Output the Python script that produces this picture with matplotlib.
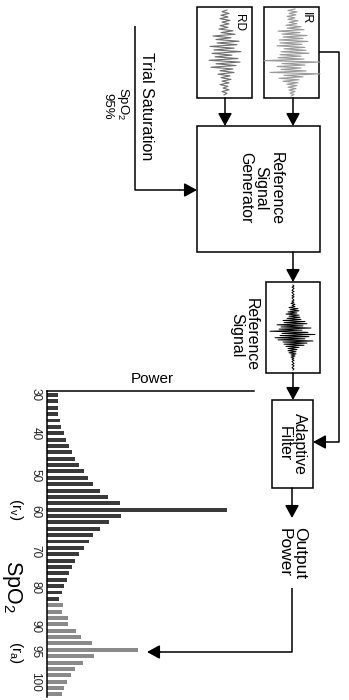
import numpy as np
import matplotlib.pyplot as plt
from matplotlib.patches import Rectangle

plt.rcParams['font.family'] = ['Liberation Sans', 'DejaVu Sans']
plt.rcParams['mathtext.fontset'] = 'custom'
plt.rcParams['mathtext.rm'] = 'Liberation Sans'
plt.rcParams['mathtext.it'] = 'Liberation Sans:italic'

# --- DATA ---
# output power of the adaptive filter per trial saturation bin (top -> bottom)
power_venous = [11, 11, 11, 11, 12.7, 14, 16.7, 19.3, 22, 24.7, 28.3, 32, 36.7,
                41, 46, 52.7, 61, 73.3, 180, 74, 62, 53, 46.3, 41.7, 36.7, 32,
                28.3, 25, 22.3, 20, 16.7, 14.7, 12.3]
power_arterial = [15.7, 15, 21, 21.3, 29.3, 34, 44.7, 91, 47, 36, 28.3, 23.7,
                  20.3, 17.3, 14.7]
spo2_labels = ['30', '40', '50', '60', '70', '80', '90', '95', '100']
spo2_bins = [0, 6, 12.6, 18.3, 24.6, 30.3, 36.4, 40.2, 45.1]

# sketched signal traces (offsets from the trace centre line)
rd_trace = [2, -3, 4, -4, 3, -5, 5, -3, 4, -5, 3, -6, 8, -4, 10, -12, 6, -9,
            14, -8, 12, -15, 9, -11, 16, -13, 7, -10, 13, -16, 15, -9, 11, -14,
            8, -5, 9, -7, 5, -4, 6, -3, 4, -5, 3, -2, 4, -3, 2, -1]
ir_trace = [3, -4, 5, -3, 4, -5, 3, -4, 6, -3,
            5, -6, 9, -5, 12, -14, 8, -10, 15, -9,
            11, -13, 16, -12, 10, -15, 13, -8, 14, -11,
            17, -12, 9, -14, 12, -28, 28, -10, 13, -15,
            9, -11, 14, -22, 28, -8, 11, -13, 7, -9,
            6, -5, 5, -4, 4, -3, 3, -2, 2, -1]
ref_trace = [0, 1, -1, 1, 0, -1, 1, -1, 0, 1,
             -1, 1, -1, 0, 1, -1, 1, -2, 2, -1,
             2, -4, 5, -3, 6, -5, 4, -7, 6, -4,
             7, -6, 8, -10, 12, -9, 14, -16, 10, -12,
             18, -14, 9, -23, 15, -11, 22, -13, 16, -18,
             12, -15, 20, -10, 14, -9, 11, -7, 6, -5,
             4, -5, 3, -4, 3, -2, 2, -2, 1, -1,
             1, -1, 0, 1, -1, 1, 0, -1, 1, 0]

# --- LAYOUT (pixel coordinates, y downwards) ---
boxes = {
    'rd': (197, 7, 252, 98),
    'ir': (264, 7, 319, 98),
    'gen': (197, 126, 320, 252),
    'ref': (266, 282, 320, 373),
    'filt': (272, 400, 313, 488),
}
W, H = 349, 700
fig = plt.figure(figsize=(W / 100, H / 100), dpi=100)

# --- BAR CHART (power vs SpO2) ---
power = power_venous + power_arterial
idx = np.arange(len(power))
colors = ['#3a3a3a'] * len(power_venous) + ['#8a8a8a'] * len(power_arterial)

ax = fig.add_axes([47 / W, 1 - 697 / H, 207 / W, (697 - 390.5) / H])
ax.barh(idx, power, height=0.62, color=colors, edgecolor='none')
ax.set_ylim(47.41, -0.71)
ax.set_xlim(0, 207)
ax.set_xticks([])
ax.set_yticks(spo2_bins)
ax.set_yticklabels(spo2_labels, rotation=-90, va='center', ha='right',
                   fontsize=8.5, color='#222222')
ax.tick_params(axis='y', length=0, pad=4)
for s in ['right', 'bottom']:
    ax.spines[s].set_visible(False)
for s in ['left', 'top']:
    ax.spines[s].set_linewidth(1.1)
ax.patch.set_visible(False)

# --- BLOCK DIAGRAM ---
d = fig.add_axes([0, 0, 1, 1])
d.set_xlim(0, W)
d.set_ylim(H, 0)
d.axis('off')

for x0, y0, x1, y1 in boxes.values():
    d.add_patch(Rectangle((x0, y0), x1 - x0, y1 - y0, fill=False,
                          edgecolor='black', lw=1.1))

def trace(vals, xc, y0, y1, color, lw):
    ys = np.linspace(y0, y1, len(vals))
    d.plot(xc + np.array(vals), ys, color=color, lw=lw)

trace(rd_trace, 225, 10, 95, '#6e6e6e', 0.8)
trace(ir_trace, 292, 9, 96, '#9a9a9a', 0.8)
trace(ref_trace, 293, 285, 370, 'black', 0.7)

arrow = dict(arrowstyle='-|>,head_length=0.55,head_width=0.3', color='black',
             lw=1.1, mutation_scale=14, shrinkA=0, shrinkB=0)

def line(xs, ys):
    d.plot(xs, ys, color='black', lw=1.1, solid_capstyle='butt')

def arr(p0, p1):
    d.annotate('', xy=p1, xytext=p0, arrowprops=arrow)

arr((225, 98), (225, 126))
arr((293, 98), (293, 126))
line([135, 135, 180], [26, 190, 190])
arr((180, 190), (197, 190))
line([319, 339, 339, 325], [52, 52, 442, 442])
arr((325, 442), (313, 442))
arr((293, 252), (293, 282))
arr((293, 373), (293, 400))
arr((292, 488), (292, 518))
line([292, 292, 160], [588, 652, 652])
arr((160, 652), (147, 652))

rot = dict(rotation=-90, ha='center', va='center', multialignment='center')
d.text(239, 22, 'RD', fontsize=8.5, **rot)
d.text(306, 18, 'IR', fontsize=9, **rot)
d.text(147, 106, 'Trial Saturation', fontsize=11.5, **rot)
d.text(123, 104, 'SpO$_2$', fontsize=9.5, **rot)
d.text(107, 106, '95%', fontsize=9.5, **rot)
d.text(261, 188, 'Reference\nSignal\nGenerator', fontsize=11.4,
       linespacing=1.0, **rot)
d.text(244, 335, 'Reference\nSignal', fontsize=11.4, linespacing=1.0, **rot)
d.text(292, 444, 'Adaptive\nFilter', fontsize=11.4, linespacing=1.0, **rot)
d.text(292, 553, 'Output\nPower', fontsize=12.5, linespacing=1.1, **rot)
d.text(152, 379, 'Power', fontsize=11, ha='center', va='center')
d.text(16, 509, r'(r$_\mathrm{v}$)', fontsize=11, **rot)
d.text(16, 652, r'(r$_\mathrm{a}$)', fontsize=11, **rot)
d.text(12, 586, 'SpO$_2$', fontsize=15.5, **rot)

fig.savefig('out.png', dpi=100)
